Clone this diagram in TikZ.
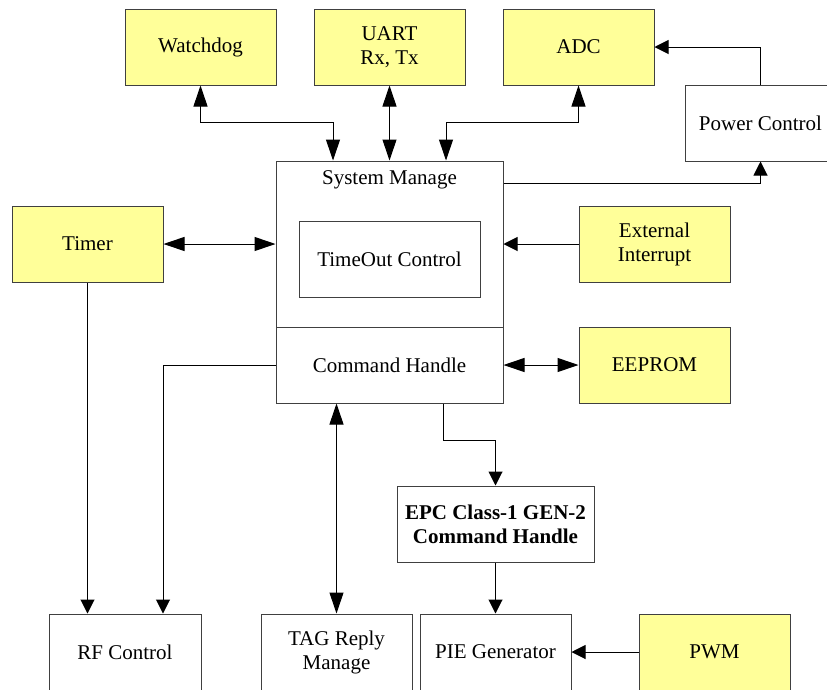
\documentclass[tikz,border=0pt]{standalone}
\usepackage{fontspec}
\setmainfont{Liberation Serif}
\usetikzlibrary{arrows.meta,calc}
\definecolor{boxyellow}{HTML}{FFFF99}
\definecolor{linegray}{HTML}{404040}
\tikzset{
  blk/.style={draw=linegray, line width=1pt, minimum width=151pt, minimum height=76pt, inner sep=0pt, align=center, font=\fontsize{21}{24}\selectfont},
  ylw/.style={blk, fill=boxyellow},
  lbl/.style={inner sep=0pt, align=center, font=\fontsize{21}{24}\selectfont},
  sgl/.style={draw=black, line width=1pt, -{Triangle[length=14pt,width=14pt]}},
  dbl/.style={draw=black, line width=1pt, {Triangle[length=21pt,width=14pt]}-{Triangle[length=21pt,width=14pt]}},
}
\begin{document}
\begin{tikzpicture}[x=1pt,y=-1pt]
\useasboundingbox (0,0) rectangle (827,689);
% top row
\node[ylw] (wd) at (200.5,47) {Watchdog};
\node[ylw] (uart) at (389.5,47) {UART\\Rx, Tx};
\node[ylw] (adc) at (578.5,47) {ADC};
\node[blk] (pc) at (760.5,123) {Power Control};
% middle
\node[ylw] (timer) at (87.5,244) {Timer};
\node[ylw] (ext) at (654.5,244) {External\\Interrupt};
\node[ylw] (eeprom) at (654.5,365) {EEPROM};
\node[blk, minimum width=227pt, minimum height=242pt] (sys) at (389.5,282) {};
\node[lbl] (smlabel) at (389.5,180) {System Manage};
\node[blk, minimum width=181pt] (tmo) at (389.5,259) {TimeOut Control};
\node[blk, minimum width=227pt] (cmd) at (389.5,365) {Command Handle};
\node[blk, minimum width=197pt, font=\fontsize{21}{24}\selectfont\bfseries] (epc) at (495.5,524) {EPC Class-1 GEN-2\\Command Handle};
% bottom
\node[blk, minimum width=152pt] (rf) at (125,652) {RF Control};
\node[blk] (tag) at (336.5,652) {TAG Reply\\Manage};
\node[blk] (pie) at (495.5,652) {PIE Generator};
\node[ylw] (pwm) at (714.5,652) {PWM};
% junction points
\coordinate (j1) at (333,122);
\coordinate (j2) at (446,122);
\coordinate (j3) at (503,183);
\coordinate (j4) at (163,365);
\coordinate (j5) at (443,440);
% connectors
\draw[dbl] (wd.south) |- (j1) -- (j1 |- sys.north);
\draw[dbl] (uart.south) -- (sys.north);
\draw[dbl] (adc.south) |- (j2) -- (j2 |- sys.north);
\draw[sgl] (pc.north) |- (adc.east);
\draw[sgl] (j3 -| sys.east) -| (pc.south);
\draw[dbl] (timer.east) -- (timer.east -| sys.west);
\draw[sgl] (ext.west) -- (ext.west -| sys.east);
\draw[dbl] (cmd.east) -- (eeprom.west);
\draw[sgl] (timer.south) -- (timer.south |- rf.north);
\draw[sgl] (cmd.west) -- (j4) -- (j4 |- rf.north);
\draw[dbl] (tag.north |- cmd.south) -- (tag.north);
\draw[sgl] (j5 |- cmd.south) -- (j5) -| (epc.north);
\draw[sgl] (epc.south) -- (pie.north);
\draw[sgl] (pwm.west) -- (pie.east);
\end{tikzpicture}
\end{document}
